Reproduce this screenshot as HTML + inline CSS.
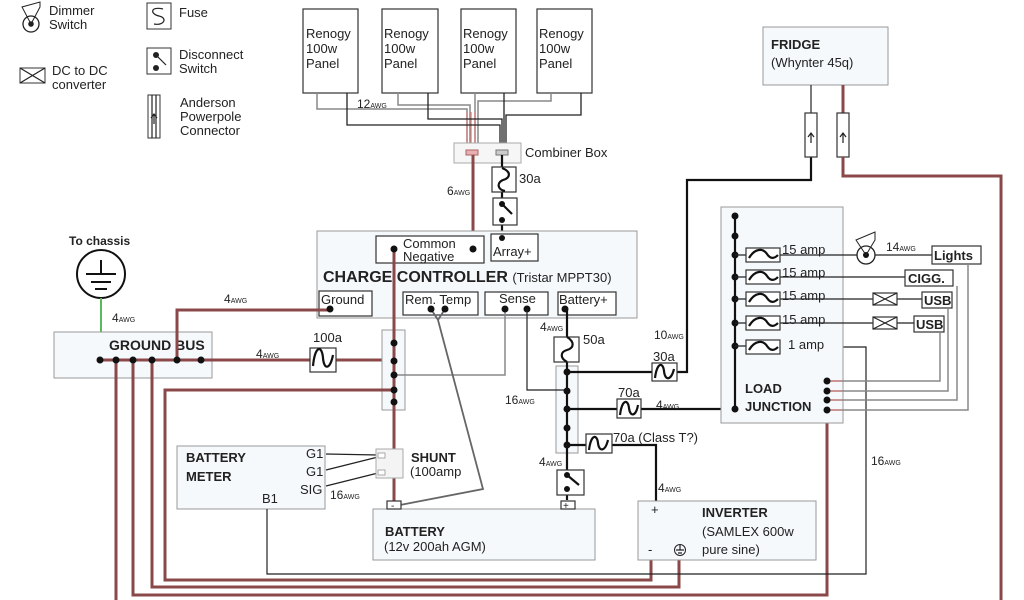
<!DOCTYPE html>
<html><head><meta charset="utf-8"><style>
html,body{margin:0;padding:0;background:#fff;width:1024px;height:600px;overflow:hidden}
svg{display:block}
text{font-family:"Liberation Sans",sans-serif;fill:#222}
.b{font-weight:bold}
.box{fill:#f6f9fb;stroke:#999;stroke-width:1}
.bk{fill:none;stroke:#111;stroke-width:2.2}
.th{fill:none;stroke:#222;stroke-width:1.2}
.gr{fill:none;stroke:#888;stroke-width:1.5}
.rd{fill:none;stroke:#8a4848;stroke-width:3}
.rl{fill:none;stroke:#d57a7a;stroke-width:1.2}
.sb{fill:#fff;stroke:#333;stroke-width:1.2}
.sm{font-size:7px}
</style></head><body>
<svg width="1024" height="600" viewBox="0 0 1024 600" xmlns="http://www.w3.org/2000/svg">
<!-- Legend -->
<circle cx="31" cy="24" r="8" fill="none" stroke="#222" stroke-width="1.3"/><circle cx="31" cy="24" r="2.8" fill="#222"/>
<path d="M31 24 L22 7 L40 2 L40 7 Z" fill="none" stroke="#222" stroke-width="1"/>
<text x="49" y="15" font-size="13">Dimmer</text><text x="49" y="29" font-size="13">Switch</text>
<rect x="147" y="3" width="24" height="26" fill="none" stroke="#333"/><path d="M163 9 C150 6 150 14 159 16 C168 18 164 26 154 24" class="th" stroke-width="2"/>
<text x="179" y="17" font-size="13">Fuse</text>
<rect x="20" y="68" width="25" height="15" fill="none" stroke="#333"/><path d="M20 68 L45 83 M45 68 L20 83" class="th"/>
<text x="52" y="75" font-size="13">DC to DC</text><text x="52" y="89" font-size="13">converter</text>
<rect x="147" y="48" width="24" height="26" fill="none" stroke="#333"/><circle cx="156" cy="55" r="3" fill="#222"/><circle cx="156" cy="68" r="3" fill="#222"/><path d="M156 55 L166 65" class="th" stroke-width="2"/>
<text x="179" y="59" font-size="13">Disconnect</text><text x="179" y="73" font-size="13">Switch</text>
<rect x="148" y="95" width="12" height="43" fill="none" stroke="#333"/><path d="M152 95 V138 M156 95 V138 M151 118 L154 114 L157 118 M154 114 V124" class="th" stroke-width="0.8"/>
<text x="180" y="107" font-size="13">Anderson</text><text x="180" y="121" font-size="13">Powerpole</text><text x="180" y="135" font-size="13">Connector</text>

<!-- Panels -->
<g font-size="13">
<rect x="303" y="9" width="55" height="84" class="sb" stroke="#555"/><text x="306" y="38">Renogy</text><text x="306" y="53">100w</text><text x="306" y="68">Panel</text>
<rect x="382" y="9" width="56" height="84" class="sb" stroke="#555"/><text x="384" y="38">Renogy</text><text x="384" y="53">100w</text><text x="384" y="68">Panel</text>
<rect x="461" y="9" width="55" height="84" class="sb" stroke="#555"/><text x="463" y="38">Renogy</text><text x="463" y="53">100w</text><text x="463" y="68">Panel</text>
<rect x="537" y="9" width="55" height="84" class="sb" stroke="#555"/><text x="539" y="38">Renogy</text><text x="539" y="53">100w</text><text x="539" y="68">Panel</text>
</g>
<path d="M317 93 V109 H467 V150 M398 93 V105 H470 V150 M475 93 V150 M551 93 V101 H478 V150" class="gr" stroke-width="1.3"/>
<path d="M467 112 V150 M471 112 V150 M475 112 V150" class="rl"/>
<path d="M347 93 V125 H500 V150 M428 93 V119 H502 V150 M504 93 V150 M581 93 V115 H506 V150" fill="none" stroke="#222" stroke-width="1.3"/>
<text x="357" y="108" font-size="12">12<tspan class="sm">AWG</tspan></text>
<rect x="454" y="143" width="67" height="20" fill="#f6f6f6" stroke="#aaa"/>
<rect x="466" y="150" width="12" height="5" fill="#e8b0b0" stroke="#a66"/><rect x="496" y="150" width="12" height="5" fill="#ccc" stroke="#777"/>
<text x="525" y="157" font-size="13">Combiner Box</text>
<path d="M473 155 V249" class="rd"/>
<text x="447" y="195" font-size="12">6<tspan class="sm">AWG</tspan></text>
<path d="M502 155 V232" class="bk"/>
<rect x="492" y="167" width="24" height="25" class="sb"/><path d="M502 168 C512 172 510 178 503 180 C496 183 498 190 505 191" class="bk"/>
<text x="519" y="183" font-size="13">30a</text>
<rect x="493" y="198" width="24" height="27" class="sb"/><circle cx="502" cy="204" r="3" fill="#111"/><circle cx="502" cy="220" r="3" fill="#111"/><path d="M502 204 L512 214" class="bk"/>

<!-- Charge controller -->
<rect x="317" y="231" width="320" height="87" class="box"/>
<rect x="376" y="236" width="108" height="27" class="sb"/>
<text x="403" y="248" font-size="13">Common</text><text x="403" y="261" font-size="13">Negative</text>
<rect x="491" y="234" width="47" height="27" class="sb"/><text x="493" y="256" font-size="13">Array+</text>
<circle cx="502" cy="238" r="3" fill="#111"/>
<text x="323" y="282" font-size="16" class="b">CHARGE CONTROLLER <tspan font-weight="normal" font-size="13">(Tristar MPPT30)</tspan></text>
<rect x="319" y="291" width="53" height="25" class="sb"/><text x="321" y="304" font-size="13">Ground</text>
<rect x="403" y="292" width="75" height="23" class="sb"/><text x="405" y="304" font-size="13">Rem. Temp</text>
<rect x="485" y="292" width="63" height="23" class="sb"/><text x="499" y="303" font-size="13">Sense</text>
<rect x="558" y="292" width="58" height="23" class="sb"/><text x="559" y="304" font-size="13">Battery+</text>

<!-- To chassis -->
<text x="69" y="245" font-size="12" class="b">To chassis</text>
<circle cx="101" cy="274" r="24" fill="none" stroke="#111" stroke-width="2"/>
<path d="M86 274 H116 M91 282 H111 M95 289 H107 M101 260 V274" fill="none" stroke="#111" stroke-width="2"/>
<path d="M101 298 V360" fill="none" stroke="#5cb85c" stroke-width="2"/>
<text x="112" y="322" font-size="12">4<tspan class="sm">AWG</tspan></text>

<!-- Ground bus -->
<rect x="54" y="332" width="158" height="46" class="box"/>
<text x="109" y="350" font-size="14" class="b">GROUND BUS</text>
<path d="M177 360 V310 H330" class="rd"/>
<text x="224" y="303" font-size="12">4<tspan class="sm">AWG</tspan></text>
<path d="M100 360 H310 M336 360 H394" class="rd"/>
<text x="256" y="358" font-size="12">4<tspan class="sm">AWG</tspan></text>
<text x="313" y="342" font-size="13">100a</text>
<rect x="310" y="348" width="26" height="24" class="sb"/><path d="M313 366 C315 345 322 345 323 358 C324 370 330 370 333 355" class="bk"/>

<rect x="382" y="330" width="23" height="80" class="box"/>
<path d="M394 249 V503" class="rd"/>
<path d="M394 375 H505 V309" class="gr" stroke="#777"/>
<path d="M394 390 H165 V580 H651 V555" class="rd"/>
<g fill="#111"><circle cx="394" cy="249" r="3.5"/><circle cx="473" cy="249" r="3.5"/>
<circle cx="394" cy="343" r="3.5"/><circle cx="394" cy="361" r="3.5"/><circle cx="394" cy="375" r="3.5"/><circle cx="394" cy="390" r="3.5"/><circle cx="394" cy="402" r="3.5"/>
<circle cx="330" cy="309" r="3.5"/></g>

<path d="M116 360 V600 M133 360 V595 H827 V410 M152 360 V587 H679 V555" class="rd"/>
<g fill="#111"><circle cx="100" cy="360" r="3.5"/><circle cx="116" cy="360" r="3.5"/><circle cx="133" cy="360" r="3.5"/><circle cx="152" cy="360" r="3.5"/><circle cx="177" cy="360" r="3.5"/><circle cx="201" cy="360" r="3.5"/></g>

<path d="M431 309 L438 320 L445 309 M438 320 L483 489 L400 505" fill="none" stroke="#666" stroke-width="1.8"/>
<g fill="#111"><circle cx="431" cy="309" r="3.5"/><circle cx="445" cy="309" r="3.5"/><circle cx="505" cy="309" r="3.5"/><circle cx="527" cy="309" r="3.5"/><circle cx="565" cy="309" r="3.5"/></g>

<rect x="177" y="446" width="148" height="63" class="box"/>
<text x="186" y="462" font-size="13" class="b">BATTERY</text><text x="186" y="481" font-size="13" class="b">METER</text>
<text x="306" y="458" font-size="13">G1</text><text x="306" y="476" font-size="13">G1</text><text x="300" y="494" font-size="13">SIG</text><text x="262" y="503" font-size="13">B1</text>
<text x="330" y="499" font-size="12">16<tspan class="sm">AWG</tspan></text>
<path d="M326 454 L378 455 M326 470 L378 457 M326 486 L378 473" class="th"/>
<rect x="376" y="449" width="27" height="29" fill="#f4f4f4" stroke="#aaa"/>
<rect x="378" y="453" width="7" height="5" fill="#fff" stroke="#888" stroke-width="0.7"/><rect x="378" y="470" width="7" height="5" fill="#fff" stroke="#888" stroke-width="0.7"/>
<text x="411" y="462" font-size="13" class="b">SHUNT</text><text x="410" y="476" font-size="13">(100amp</text>
<path d="M267 509 V574 H866 V347 H780" class="th"/>

<rect x="373" y="509" width="222" height="51" class="box"/>
<rect x="387" y="501" width="14" height="8" class="sb" stroke="#888"/><text x="391" y="509" font-size="10">-</text>
<rect x="561" y="501" width="14" height="8" class="sb" stroke="#888"/><text x="563" y="509" font-size="10">+</text>
<text x="385" y="536" font-size="13" class="b">BATTERY</text><text x="384" y="551" font-size="13">(12v 200ah AGM)</text>

<rect x="556" y="366" width="22" height="87" class="box"/>
<path d="M567 309 V500" class="bk"/>
<text x="540" y="331" font-size="12">4<tspan class="sm">AWG</tspan></text>
<rect x="554" y="337" width="25" height="25" class="sb"/><path d="M567 337 C575 342 574 348 567 350 C560 352 560 358 567 362" class="bk"/>
<text x="583" y="344" font-size="13">50a</text>
<path d="M567 372 H652 M677 372 H687 V180 H811 V157" class="bk"/>
<text x="654" y="339" font-size="12">10<tspan class="sm">AWG</tspan></text>
<text x="653" y="361" font-size="13">30a</text>
<rect x="652" y="363" width="25" height="18" class="sb"/><path d="M655 378 C657 362 663 362 664 371 C665 381 671 381 674 369" class="bk"/>
<path d="M527 309 V390 H567" class="th"/>
<text x="505" y="404" font-size="12">16<tspan class="sm">AWG</tspan></text>
<path d="M567 409 H617 M641 409 H735" class="bk"/>
<text x="618" y="397" font-size="13">70a</text>
<rect x="617" y="399" width="24" height="19" class="sb"/><path d="M620 415 C622 399 628 399 629 408 C630 417 636 417 638 405" class="bk"/>
<text x="656" y="409" font-size="12">4<tspan class="sm">AWG</tspan></text>
<path d="M567 445 H586 M612 445 H656 V506" class="bk"/>
<rect x="586" y="434" width="26" height="19" class="sb"/><path d="M589 450 C591 434 597 434 598 443 C599 452 605 452 608 440" class="bk"/>
<text x="613" y="442" font-size="13">70a (Class T?)</text>
<text x="539" y="466" font-size="12">4<tspan class="sm">AWG</tspan></text>
<text x="658" y="492" font-size="12">4<tspan class="sm">AWG</tspan></text>
<rect x="557" y="470" width="27" height="25" class="sb"/><circle cx="567" cy="475" r="3" fill="#111"/><circle cx="567" cy="489" r="3" fill="#111"/><path d="M567 475 L579 485" class="bk"/>
<g fill="#111"><circle cx="567" cy="372" r="3.5"/><circle cx="567" cy="391" r="3.5"/><circle cx="567" cy="409" r="3.5"/><circle cx="567" cy="428" r="3.5"/><circle cx="567" cy="445" r="3.5"/></g>

<rect x="638" y="501" width="178" height="59" class="box"/>
<text x="651" y="514" font-size="13">+</text>
<text x="702" y="517" font-size="13" class="b">INVERTER</text>
<text x="702" y="536" font-size="13">(SAMLEX 600w</text><text x="702" y="554" font-size="13">pure sine)</text>
<text x="648" y="554" font-size="13">-</text>
<circle cx="680" cy="550" r="5.5" fill="none" stroke="#222"/><path d="M676 550 H684 M678 553 H682 M680 545 V550" class="th" stroke-width="0.8"/>

<rect x="763" y="27" width="125" height="58" class="box"/>
<text x="771" y="49" font-size="13" class="b">FRIDGE</text><text x="771" y="67" font-size="13">(Whynter 45q)</text>
<path d="M811 85 V113 M843 85 V113" class="th"/>
<path d="M843 85 V113" class="rd"/>
<rect x="805" y="113" width="12" height="44" class="sb"/><rect x="837" y="113" width="12" height="44" class="sb"/>
<path d="M808 137 L811 133 L814 137 M811 133 V143 M840 137 L843 133 L846 137 M843 133 V143" class="th" stroke-width="0.8"/>
<path d="M843 157 V176 H1001 V600" class="rd"/>

<rect x="721" y="207" width="122" height="216" class="box"/>
<path d="M735 216 V409" class="bk"/>
<g fill="#111"><circle cx="735" cy="216" r="3.5"/><circle cx="735" cy="236" r="3.5"/><circle cx="735" cy="255" r="3.5"/><circle cx="735" cy="277" r="3.5"/><circle cx="735" cy="299" r="3.5"/><circle cx="735" cy="323" r="3.5"/><circle cx="735" cy="346" r="3.5"/><circle cx="735" cy="409" r="3.5"/></g>
<g>
<path d="M735 255 H746 M780 255 H932 M735 277 H746 M780 277 H905 M735 299 H746 M780 299 H873 M897 299 H922 M735 323 H746 M780 323 H873 M897 323 H914 M735 346 H746" class="th"/>
<rect x="746" y="248" width="34" height="14" class="sb"/><path d="M749 258 C755 248 763 248 767 254 C771 260 775 258 778 255" class="bk" stroke-width="1.8"/>
<rect x="746" y="270" width="34" height="14" class="sb"/><path d="M749 280 C755 270 763 270 767 276 C771 282 775 280 778 277" class="bk" stroke-width="1.8"/>
<rect x="746" y="292" width="34" height="14" class="sb"/><path d="M749 302 C755 292 763 292 767 298 C771 304 775 302 778 299" class="bk" stroke-width="1.8"/>
<rect x="746" y="316" width="34" height="14" class="sb"/><path d="M749 326 C755 316 763 316 767 322 C771 328 775 326 778 323" class="bk" stroke-width="1.8"/>
<rect x="746" y="340" width="34" height="14" class="sb"/><path d="M749 350 C755 340 763 340 767 346 C771 352 775 350 778 347" class="bk" stroke-width="1.8"/>
</g>
<g font-size="13"><text x="782" y="254">15 amp</text><text x="782" y="277">15 amp</text><text x="782" y="300">15 amp</text><text x="782" y="324">15 amp</text><text x="788" y="349">1 amp</text></g>
<circle cx="866" cy="255" r="9" fill="#fff" stroke="#222" stroke-width="1.3"/><circle cx="866" cy="255" r="3" fill="#111"/>
<path d="M866 255 L856 240 L875 232 V240 Z" fill="none" stroke="#222" stroke-width="1"/>
<text x="886" y="251" font-size="12">14<tspan class="sm">AWG</tspan></text>
<rect x="932" y="246" width="49" height="18" class="sb" stroke="#555"/><text x="934" y="260" font-size="13" class="b">Lights</text>
<rect x="905" y="270" width="48" height="16" class="sb" stroke="#555"/><text x="908" y="283" font-size="13" class="b">CIGG.</text>
<rect x="922" y="292" width="30" height="16" class="sb" stroke="#555"/><text x="924" y="305" font-size="13" class="b">USB</text>
<rect x="914" y="316" width="30" height="16" class="sb" stroke="#555"/><text x="916" y="329" font-size="13" class="b">USB</text>
<rect x="873" y="293" width="24" height="12" class="sb"/><path d="M873 293 L897 305 M897 293 L873 305" class="th"/>
<rect x="873" y="317" width="24" height="12" class="sb"/><path d="M873 317 L897 329 M897 317 L873 329" class="th"/>
<path d="M827 381 H940 V332 M827 391 H948 V308 M827 400 H957 V286 M827 410 H968 V264" class="gr" stroke="#777" stroke-width="1.2"/>
<path d="M827 381 H842 M827 391 H842 M827 400 H842 M827 410 H842" class="rl" stroke-width="1.5"/>
<g fill="#111"><circle cx="827" cy="381" r="3.5"/><circle cx="827" cy="391" r="3.5"/><circle cx="827" cy="400" r="3.5"/><circle cx="827" cy="410" r="3.5"/></g>
<text x="745" y="393" font-size="13" class="b">LOAD</text><text x="745" y="411" font-size="13" class="b">JUNCTION</text>
<text x="871" y="465" font-size="12">16<tspan class="sm">AWG</tspan></text>
</svg>
</body></html>
